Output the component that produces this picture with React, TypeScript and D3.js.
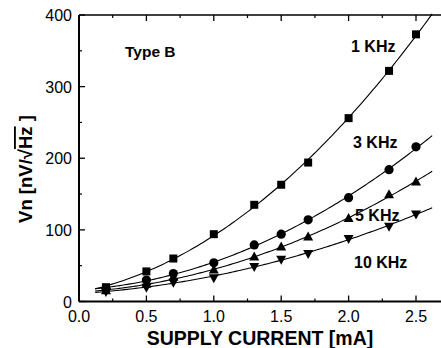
import React from "react";
import * as d3 from "d3";

// supply current [mA]
const current = [0.2, 0.5, 0.7, 1.0, 1.3, 1.5, 1.7, 2.0, 2.3, 2.5];
// noise voltage [nV/sqrt(Hz)] per frequency
const vn1k = [20, 42, 60, 94, 135, 163, 194, 256, 322, 373];
const vn3k = [18, 30, 39, 54, 79, 94, 114, 145, 184, 216];
const vn5k = [15, 24, 34, 44, 62, 76, 90, 116, 149, 167];
const vn10k = [14, 20, 27, 33, 49, 59, 67, 88, 105, 122];

const xTicks = [0.0, 0.5, 1.0, 1.5, 2.0, 2.5];
const yTicks = [0, 100, 200, 300, 400];

const series = [
  { name: "1 KHz", values: vn1k, shape: "square", lx: 351, ly: 52 },
  { name: "3 KHz", values: vn3k, shape: "circle", lx: 353, ly: 148 },
  { name: "5 KHz", values: vn5k, shape: "up", lx: 355, ly: 221 },
  { name: "10 KHz", values: vn10k, shape: "down", lx: 354, ly: 268 },
];

// quadratic least-squares fit of the measured points
function fitQuad(xs: number[], ys: number[]) {
  const n = xs.length;
  let s0 = n, s1 = 0, s2 = 0, s3 = 0, s4 = 0, t0 = 0, t1 = 0, t2 = 0;
  xs.forEach((x, i) => {
    const y = ys[i];
    s1 += x; s2 += x * x; s3 += x ** 3; s4 += x ** 4;
    t0 += y; t1 += x * y; t2 += x * x * y;
  });
  const m = [
    [s0, s1, s2, t0],
    [s1, s2, s3, t1],
    [s2, s3, s4, t2],
  ];
  for (let i = 0; i < 3; i++) {
    for (let k = i + 1; k < 3; k++) {
      const f = m[k][i] / m[i][i];
      for (let j = i; j < 4; j++) m[k][j] -= f * m[i][j];
    }
  }
  const c = [0, 0, 0];
  for (let i = 2; i >= 0; i--) {
    let s = m[i][3];
    for (let j = i + 1; j < 3; j++) s -= m[i][j] * c[j];
    c[i] = s / m[i][i];
  }
  return (x: number) => c[0] + c[1] * x + c[2] * x * x;
}

const W = 441;
const H = 348;
const left = 79, top = 15, bottom = 301.5;

export default function App() {
  const x = d3.scaleLinear().domain([0, 2.7]).range([left, left + 2.7 * 134.8]);
  const y = d3.scaleLinear().domain([0, 400]).range([bottom, top]);
  const line = d3
    .line<number[]>()
    .x((d) => x(d[0]))
    .y((d) => y(d[1]));
  const xs = d3.range(0.12, 2.63, 0.02);

  const marker = (shape: string, cx: number, cy: number, key: number) => {
    if (shape === "square")
      return <rect key={key} x={cx - 4} y={cy - 4} width={8} height={8} fill="#000" />;
    if (shape === "circle") return <circle key={key} cx={cx} cy={cy} r={4.6} fill="#000" />;
    if (shape === "up")
      return <path key={key} d={`M${cx},${cy - 5.5}L${cx + 5},${cy + 3.5}L${cx - 5},${cy + 3.5}Z`} fill="#000" />;
    return <path key={key} d={`M${cx},${cy + 5.5}L${cx + 5},${cy - 3.5}L${cx - 5},${cy - 3.5}Z`} fill="#000" />;
  };

  const xMinor = d3.range(0.25, 2.7, 0.5);
  const yMinor = [50, 150, 250, 350];
  const font = "Liberation Sans, Arial, sans-serif";

  return (
    <div style={{ position: "absolute", left: 0, top: 0 }}>
      <svg width={W} height={H} style={{ display: "block", background: "#fff" }} fontFamily={font}>
        {/* axes frame */}
        <line x1={left} x2={W} y1={bottom} y2={bottom} stroke="#000" strokeWidth={2} />
        <line x1={left} x2={W} y1={top} y2={top} stroke="#000" strokeWidth={1.5} />
        <line x1={left} x2={left} y1={top} y2={bottom} stroke="#000" strokeWidth={2} />

        {/* x ticks */}
        {xTicks.map((t) => (
          <g key={"xt" + t}>
            <line x1={x(t)} x2={x(t)} y1={bottom} y2={bottom - 6} stroke="#000" strokeWidth={1.3} />
            <line x1={x(t)} x2={x(t)} y1={top} y2={top + 6} stroke="#000" strokeWidth={1.3} />
            <text x={x(t)} y={322} textAnchor="middle" fontSize={16}>
              {t.toFixed(1)}
            </text>
          </g>
        ))}
        {xMinor.map((t) => (
          <g key={"xm" + t}>
            <line x1={x(t)} x2={x(t)} y1={bottom} y2={bottom - 3} stroke="#000" strokeWidth={1.2} />
            <line x1={x(t)} x2={x(t)} y1={top} y2={top + 3} stroke="#000" strokeWidth={1.2} />
          </g>
        ))}

        {/* y ticks */}
        {yTicks.map((t) => (
          <g key={"yt" + t}>
            <line x1={left} x2={left + 6} y1={y(t)} y2={y(t)} stroke="#000" strokeWidth={1.3} />
            <text x={72} y={y(t) + 6} textAnchor="end" fontSize={16}>
              {t}
            </text>
          </g>
        ))}
        {yMinor.map((t) => (
          <line key={"ym" + t} x1={left} x2={left + 3} y1={y(t)} y2={y(t)} stroke="#000" strokeWidth={1.2} />
        ))}

        {/* curves and markers */}
        {series.map((s) => {
          const f = fitQuad(current, s.values);
          return (
            <g key={s.name}>
              <path d={line(xs.map((v) => [v, f(v)])) || ""} fill="none" stroke="#000" strokeWidth={1.1} />
              {current.map((c, i) => marker(s.shape, x(c), y(s.values[i]), i))}
              <text x={s.lx} y={s.ly} fontSize={16} fontWeight="bold">
                {s.name}
              </text>
            </g>
          );
        })}

        <text x={125} y={57} fontSize={15.5} fontWeight="bold">
          Type B
        </text>

        {/* axis titles */}
        <text x={260} y={344.5} textAnchor="middle" fontSize={19.5} fontWeight="bold">
          SUPPLY CURRENT [mA]
        </text>
        <text
          transform="translate(32,169) rotate(-90)"
          textAnchor="middle"
          fontSize={18.5}
          fontWeight="bold"
        >
          Vn [nV/√<tspan style={{ textDecoration: "overline" }}>Hz</tspan> ]
        </text>
      </svg>
    </div>
  );
}
